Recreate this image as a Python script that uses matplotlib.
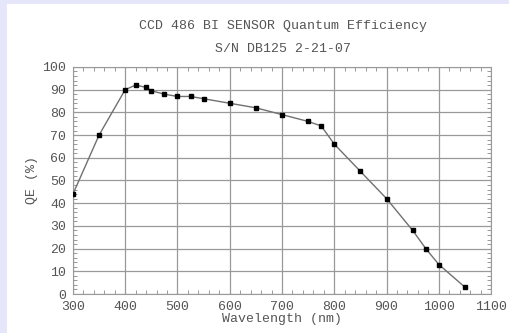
import matplotlib
matplotlib.use('Agg')
import matplotlib.pyplot as plt
from matplotlib.patches import Rectangle
from matplotlib.ticker import MultipleLocator

wavelength = [300, 350, 400, 420, 440, 450, 475, 500, 525, 550, 600, 650,
              700, 750, 775, 800, 850, 900, 950, 975, 1000, 1050]
qe = [44, 70, 90, 92, 91, 89.5, 88, 87, 87, 86, 84, 82,
      79, 76, 74, 66, 54, 42, 28, 20, 13, 3]

plt.rcParams['font.family'] = ['Liberation Mono', 'DejaVu Sans Mono']
txt = '#555555'

fig = plt.figure(figsize=(5.1, 3.33), dpi=100)
fig.patch.set_facecolor('#e6e6fa')
fig.patches.append(Rectangle((7 / 510, 0), 1, 1 - 4 / 333, transform=fig.transFigure,
                             facecolor='white', edgecolor='none', zorder=-1))

ax = fig.add_axes([0.143, 0.117, 0.820, 0.682])
ax.plot(wavelength, qe, color='#707070', lw=1.0, marker='s', ms=2.4,
        mfc='black', mec='black', zorder=3)

ax.set_xlim(300, 1100)
ax.set_ylim(0, 100)
ax.xaxis.set_major_locator(MultipleLocator(100))
ax.xaxis.set_minor_locator(MultipleLocator(20))
ax.yaxis.set_major_locator(MultipleLocator(10))
ax.yaxis.set_minor_locator(MultipleLocator(2))
ax.grid(True, which='major', color='#999999', lw=0.9)
ax.tick_params(which='both', direction='in', top=True, right=True, colors='#888888',
               labelcolor=txt, labelsize=9.5)
ax.tick_params(which='major', length=0)
ax.tick_params(which='minor', length=3)
ax.tick_params(axis='x', which='major', pad=5)
ax.tick_params(axis='y', which='major', pad=5)
for s in ax.spines.values():
    s.set_color('#999999')

ax.set_xlabel('Wavelength (nm)', color=txt, fontsize=9.5, labelpad=0)
ax.set_ylabel('QE (%)', color=txt, fontsize=9.5, labelpad=3)
fig.text(0.555, 0.922, 'CCD 486 BI SENSOR Quantum Efficiency', ha='center', va='center',
         color=txt, fontsize=9.5)
fig.text(0.555, 0.853, 'S/N DB125 2-21-07', ha='center', va='center',
         color=txt, fontsize=9.5)

fig.savefig('out.png', dpi=100, facecolor=fig.get_facecolor())
